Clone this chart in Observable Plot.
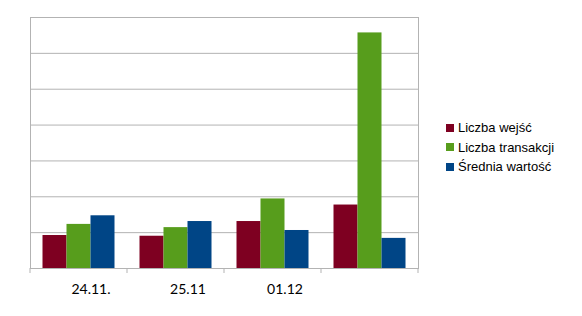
<!DOCTYPE html>
<html>
<head>
<meta charset="utf-8">
<script src="https://cdn.jsdelivr.net/npm/d3@7"></script>
<script src="https://cdn.jsdelivr.net/npm/@observablehq/plot@0.6"></script>
<style>
  html, body { margin: 0; padding: 0; background: #fff; }
  #wrap { position: relative; width: 582px; height: 316px; overflow: hidden; }
  #wrap svg { position: absolute; left: 0; top: 0; }
  #legend { position: absolute; left: 446px; top: 118px; font-family: "Liberation Sans", Arial, sans-serif; font-size: 13px; color: #000; }
  #legend .item { display: flex; align-items: center; height: 19.5px; white-space: nowrap; }
  #legend .sw { width: 8px; height: 8px; margin-right: 4px; }
</style>
</head>
<body>
<div id="wrap"></div>
<script>
const groups = ["24.11.", "25.11", "01.12", ""];
const series = ["Liczba wejść", "Liczba transakcji", "Średnia wartość"];
const colors = ["#7e0021", "#579d1c", "#004586"];
const wejsc = [0.92, 0.90, 1.31, 1.77];
const transakcji = [1.23, 1.14, 1.94, 6.57];
const srednia = [1.47, 1.31, 1.06, 0.84];
const yTicks = [0, 1, 2, 3, 4, 5, 6, 7];

const valuesBySeries = [wejsc, transakcji, srednia];
const rows = [];
series.forEach((s, i) => groups.forEach((g, j) => rows.push({group: g, series: s, value: valuesBySeries[i][j]})));

const W = 582, H = 316;
const chart = Plot.plot({
  width: W,
  height: H,
  marginLeft: 30,
  marginRight: 164,
  marginTop: 17,
  marginBottom: 48,
  style: {fontFamily: "Lato, 'Open Sans', sans-serif", fontSize: "14px", background: "#fff", color: "#000"},
  x: {domain: groups, padding: 0, label: null},
  y: {domain: [0, 7], label: null},
  color: {domain: series, range: colors},
  marks: [
    Plot.gridY(yTicks, {stroke: "#b3b3b3", strokeOpacity: 1}),
    ...series.map((s, i) => Plot.barY(rows.filter(d => d.series === s), {
      x: "group", y: "value", fill: "series",
      dx: (i - 1) * 24, insetLeft: 36.5, insetRight: 36.5
    })),
    Plot.frame({stroke: "#b3b3b3"}),
    Plot.axisX({tickSize: 0, tickPadding: 16, dx: 12, fontSize: 14, tickFormat: d => d}),
    Plot.axisY({ticks: [], tickSize: 0, label: null})
  ]
});
document.getElementById("wrap").appendChild(chart);

// boundary tick marks below the baseline, positioned through the x band scale
const xs = chart.scale("x");
const ys = chart.scale("y");
const base = ys.apply(0);
const edges = groups.map(g => xs.apply(g) - (xs.bandwidth ? 0 : 0));
// band scale apply returns start of band in Plot; compute robustly
const starts = groups.map(g => xs.apply(g));
const bw = xs.bandwidth;
const bounds = starts.concat([starts[starts.length - 1] + bw]);
d3.select(chart).append("g")
  .selectAll("line").data(bounds).join("line")
  .attr("x1", d => d).attr("x2", d => d)
  .attr("y1", base).attr("y2", base + 5)
  .attr("stroke", "#b3b3b3");

const legend = d3.select("#wrap").append("div").attr("id", "legend");
series.forEach((s, i) => {
  const it = legend.append("div").attr("class", "item");
  it.append("div").attr("class", "sw").style("background", colors[i]);
  it.append("span").text(s);
});
</script>
</body>
</html>
